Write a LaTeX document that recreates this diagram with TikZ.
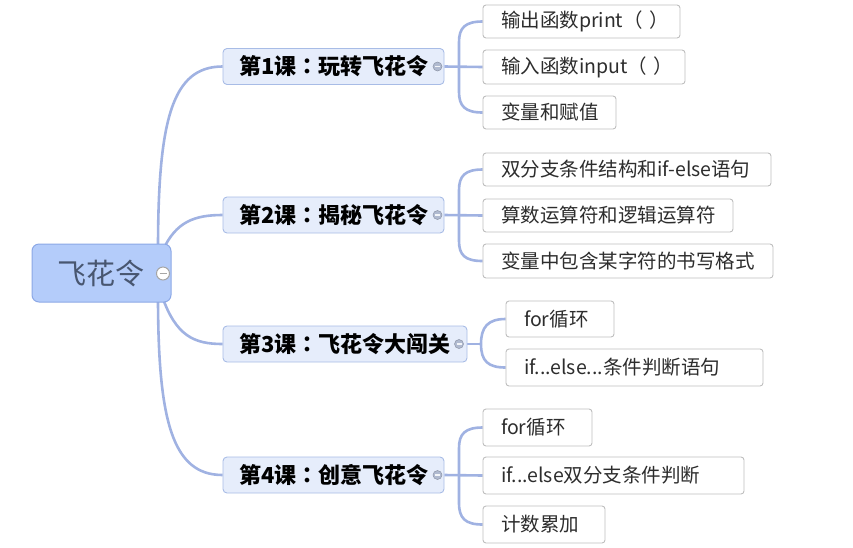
\documentclass[tikz,border=0pt]{standalone}
\usepackage{fontspec}
\setmainfont{Noto Sans CJK SC}
\newfontfamily\tcfont{Noto Sans CJK TC}
\definecolor{conn}{RGB}{160,178,226}
\definecolor{rootfill}{RGB}{180,204,250}
\definecolor{rootborder}{RGB}{140,168,230}
\definecolor{roottext}{RGB}{72,86,112}
\definecolor{lonefill}{RGB}{230,237,251}
\definecolor{loneborder}{RGB}{168,188,230}
\definecolor{leafborder}{RGB}{190,190,190}
\definecolor{leaftext}{RGB}{45,45,45}
\definecolor{knobfill}{RGB}{176,186,208}
\pgfdeclarelayer{bg}\pgfsetlayers{bg,main}
\newcommand{\ccolon}{{\tcfont ：}}
\tikzset{
  rootbox/.style={draw=rootborder,fill=rootfill,line width=1pt,rounded corners=7pt,inner sep=0pt},
  lonebox/.style={draw=loneborder,fill=lonefill,line width=0.9pt,rounded corners=4pt,inner ysep=0pt,
     inner xsep=16pt,text width=#1,align=left,
     minimum height=36pt,font=\bfseries\fontsize{22}{24}\selectfont,text=black},
  leafbox/.style={draw=leafborder,fill=white,line width=0.9pt,rounded corners=3pt,inner ysep=0pt,
     inner xsep=18pt,text width=#1,align=left,
     font=\fontsize{19.5}{22}\selectfont,text=leaftext},
  conline/.style={draw=conn,line width=2.6pt},
  bigknob/.style={circle,draw=gray!70,fill=white,line width=1pt,minimum size=13pt,inner sep=0pt},
  smallknob/.style={circle,draw=knobfill!80!black,fill=knobfill,line width=0.5pt,minimum size=9pt,inner sep=0pt}
}
\begin{document}
\begin{tikzpicture}[x=1pt,y=-1pt]
\useasboundingbox (0,0) rectangle (853,547);
% root and level-1 nodes
\node[rootbox,minimum width=139pt,minimum height=58pt] (root) at (101.5,273) {};
\node[text=roottext,font=\fontsize{29}{32}\selectfont] (roottxt) at (101,273) {飞花令};
\node[lonebox=189pt] (l1) at (333.5,66.5) {\mbox{第1课\ccolon 玩转飞花令}};
\node[lonebox=189pt] (l2) at (333.5,215) {\mbox{第2课\ccolon 揭秘飞花令}};
\node[lonebox=212pt] (l3) at (345,344) {\mbox{第3课\ccolon 飞花令大闯关}};
\node[lonebox=189pt] (l4) at (333.5,475) {\mbox{第4课\ccolon 创意飞花令}};
% leaves
\node[leafbox=161pt,minimum height=33pt] (a1) at (581.5,21.5) {\mbox{输出函数print（ ）}};
\node[leafbox=166pt,minimum height=34pt] (a2) at (584,67) {\mbox{输入函数input（ ）}};
\node[leafbox=97pt,minimum height=33pt] (a3) at (549.5,112.5) {\mbox{变量和赋值}};
\node[leafbox=252pt,minimum height=33pt] (b1) at (627,169.5) {\mbox{双分支条件结构和if-else语句}};
\node[leafbox=214pt,minimum height=33pt] (b2) at (608,215.5) {\mbox{算数运算符和逻辑运算符}};
\node[leafbox=254pt,minimum height=34pt] (b3) at (628,261) {\mbox{变量中包含某字符的书写格式}};
\node[leafbox=72pt,minimum height=36pt] (c1) at (560,319) {\mbox{for循环}};
\node[leafbox=221pt,minimum height=37pt] (c2) at (634.5,367.5) {\mbox{if...else...条件判断语句}};
\node[leafbox=73pt,minimum height=37pt] (d1) at (537.5,427.5) {\mbox{for循环}};
\node[leafbox=225pt,minimum height=37pt] (d2) at (613.5,475.5) {\mbox{if...else双分支条件判断}};
\node[leafbox=86pt,minimum height=37pt] (d3) at (544,524.5) {\mbox{计数累加}};
% connectors (behind nodes)
\begin{pgfonlayer}{bg}
\coordinate (r1s) at (158,250);
\coordinate (r2s) at (163,250);
\coordinate (r3s) at (162,296);
\coordinate (r4s) at (158,296);
\draw[conline] (r1s) .. controls (158,120) and (172,66.5) .. (l1.west);
\draw[conline] (r2s) .. controls (176,222) and (194,215) .. (l2.west);
\draw[conline] (r3s) .. controls (176,336) and (194,344) .. (l3.west);
\draw[conline] (r4s) .. controls (158,420) and (172,475) .. (l4.west);
% group 1
\coordinate (s1a) at (459,42); \coordinate (s1b) at (459,92);
\draw[conline] (l1.east) -- (a2.west);
\draw[conline] (a1.west) .. controls (465,21.5) and (459,28) .. (s1a) -- (s1b) .. controls (459,106) and (465,112.5) .. (a3.west);
% group 2
\coordinate (s2a) at (459,190); \coordinate (s2b) at (459,241);
\draw[conline] (l2.east) -- (b2.west);
\draw[conline] (b1.west) .. controls (465,169.5) and (459,176) .. (s2a) -- (s2b) .. controls (459,255) and (465,261) .. (b3.west);
% group 3
\coordinate (s3) at (481,344);
\draw[conline] (l3.east) -- (s3);
\draw[conline] (c1.west) .. controls (488,319) and (481,327) .. (s3) .. controls (481,361) and (488,367.5) .. (c2.west);
% group 4
\coordinate (s4a) at (459,448); \coordinate (s4b) at (459,503);
\draw[conline] (l4.east) -- (d2.west);
\draw[conline] (d1.west) .. controls (465,427.5) and (459,434) .. (s4a) -- (s4b) .. controls (459,518) and (465,524.5) .. (d3.west);
\end{pgfonlayer}
% collapse knobs
\node[bigknob] (k0) at (163,273.5) {};
\draw[gray!70,line width=1.6pt] ([xshift=-3.5pt]k0.center) -- ([xshift=3.5pt]k0.center);
\node[smallknob] (k1) at (437.5,66.5) {};
\node[smallknob] (k2) at (437.5,215) {};
\node[smallknob] (k3) at (459,344) {};
\node[smallknob] (k4) at (437.5,475) {};
\foreach \k in {k1,k2,k3,k4}{
  \draw[white!85!knobfill,line width=1.2pt] ([xshift=-2.5pt]\k.center) -- ([xshift=2.5pt]\k.center);
}
\end{tikzpicture}
\end{document}
